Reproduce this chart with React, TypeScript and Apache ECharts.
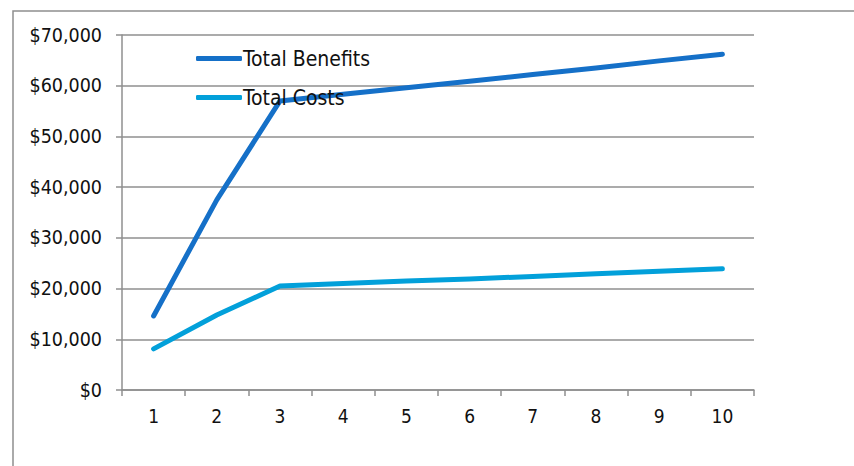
import React, { useEffect, useRef } from "react";
import * as echarts from "echarts";

// Year index along the horizontal axis
const years = ["1", "2", "3", "4", "5", "6", "7", "8", "9", "10"];

// Cumulative dollar amounts per year
const totalBenefits = [14600, 37500, 57000, 58300, 59600, 60900, 62200, 63500, 64900, 66200];
const totalCosts = [8100, 14800, 20500, 21000, 21500, 21900, 22400, 22900, 23400, 23900];

// Value axis range
const yMin = 0;
const yMax = 70000;
const yStep = 10000;

const FONT = "'DejaVu Sans Condensed', 'DejaVu Sans', sans-serif";
const GRID_GRAY = "#8f8f8f";
const BENEFIT_BLUE = "#1570c8";
const COST_BLUE = "#02a0da";

const money = (v: number) => "$" + v.toLocaleString("en-US");

export default function App() {
  const ref = useRef<HTMLDivElement>(null);

  useEffect(() => {
    document.body.style.margin = "0";
    if (!ref.current) return;
    const chart = echarts.init(ref.current, undefined, { renderer: "svg" });
    chart.setOption({
      animation: false,
      backgroundColor: "#ffffff",
      grid: { left: 122, right: 100, top: 35, bottom: 76, containLabel: false },
      legend: {
        orient: "vertical",
        left: 191,
        top: 43,
        itemWidth: 46,
        itemHeight: 5,
        itemGap: 18,
        icon: "roundRect",
        selectedMode: false,
        textStyle: { fontFamily: FONT, fontSize: 21, color: "#111111", padding: [0, 0, 0, -4] },
        data: ["Total Benefits", "Total Costs"],
      },
      graphic: [
        {
          type: "rect",
          shape: { x: 13, y: 11, width: 900, height: 500 },
          style: { fill: "none", stroke: GRID_GRAY, lineWidth: 1.5 },
          silent: true,
          z: -1,
        },
      ],
      xAxis: {
        type: "category",
        data: years,
        boundaryGap: true,
        axisLine: { show: true, lineStyle: { color: GRID_GRAY, width: 1.5 } },
        axisTick: { show: true, alignWithLabel: false, length: 6, lineStyle: { color: GRID_GRAY, width: 1.5 } },
        axisLabel: { margin: 16, fontFamily: FONT, fontSize: 19, color: "#111111" },
        splitLine: { show: false },
      },
      yAxis: {
        type: "value",
        min: yMin,
        max: yMax,
        interval: yStep,
        axisLine: { show: true, lineStyle: { color: GRID_GRAY, width: 1.5 } },
        axisTick: { show: true, length: 6, lineStyle: { color: GRID_GRAY, width: 1.5 } },
        axisLabel: { margin: 20, fontFamily: FONT, fontSize: 19.5, color: "#111111", formatter: money },
        splitLine: { show: true, lineStyle: { color: GRID_GRAY, width: 1.5 } },
      },
      series: [
        {
          name: "Total Benefits",
          type: "line",
          data: totalBenefits,
          symbol: "none",
          color: BENEFIT_BLUE,
          lineStyle: { color: BENEFIT_BLUE, width: 5, cap: "round", join: "round" },
        },
        {
          name: "Total Costs",
          type: "line",
          data: totalCosts,
          symbol: "none",
          color: COST_BLUE,
          lineStyle: { color: COST_BLUE, width: 5, cap: "round", join: "round" },
        },
      ],
    });
    return () => chart.dispose();
  }, []);

  return <div ref={ref} style={{ width: 854, height: 466 }} />;
}
